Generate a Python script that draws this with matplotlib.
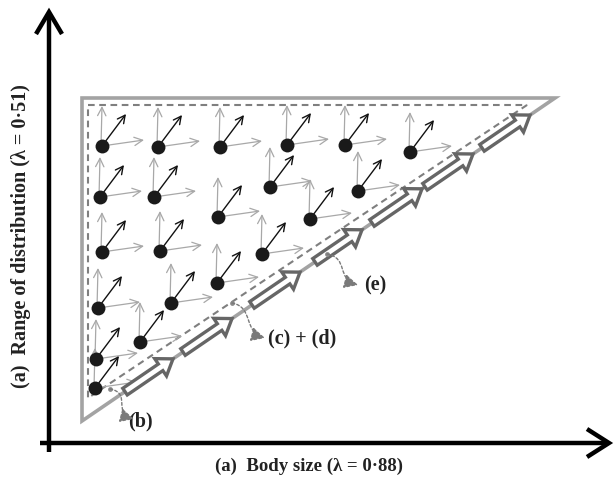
import matplotlib
matplotlib.use("Agg")
import matplotlib.pyplot as plt
import matplotlib.patches as mpatches
from matplotlib.path import Path
import numpy as np

# ---- data (diagram coordinates, 1 unit = 1 pixel, y downward) ----
dot_x = [102, 158, 220, 287, 345, 410,
         100, 154, 270, 358,
         218, 310,
         102, 160, 262,
         217,
         98, 171,
         140,
         96,
         95]
dot_y = [146, 147, 147, 145, 145, 152,
         197, 197, 187, 191,
         217, 219,
         252, 251, 254,
         283,
         308, 303,
         342,
         359,
         388]

# outer (solid) and inner (dashed) triangles
outer_x = [82, 555, 82]
outer_y = [98, 98, 421]
inner_x = [88, 527, 88]
inner_y = [105, 105, 398]

# block arrows along the hypotenuse (tail x, tip x)
block_tail_x = [125, 183, 252, 315, 372, 425, 482]
block_tip_x = [173, 232, 300, 362, 422, 473, 530]

# annotation labels
labels = ["(b)", "(c) + (d)", "(e)"]
label_start = [(110, 389), (232, 303), (327, 254)]
label_end = [(134, 419), (265, 338), (358, 285)]
label_pos = [(128, 421), (268, 338), (364, 285)]

xlabel = "(a)  Body size (λ = 0·88)"
ylabel = "(a)  Range of distribution (λ = 0·51)"

# ---- figure ----
fig = plt.figure(figsize=(6.14, 4.80), dpi=100)
ax = fig.add_axes([0, 0, 1, 1])
ax.set_xlim(0, 614)
ax.set_ylim(480, 0)
ax.axis("off")

serif = ["Liberation Serif", "DejaVu Serif"]

# axes arrows
ax.plot([49, 49], [452, 14], color="black", lw=3.2, solid_capstyle="butt", zorder=5)
ax.plot([40, 606], [443, 443], color="black", lw=3.2, solid_capstyle="butt", zorder=5)
ax.plot([36, 49, 62], [34, 12, 34], color="black", lw=3.2, solid_joinstyle="miter",
        solid_capstyle="butt", zorder=5)
ax.plot([587, 609, 587], [429, 443, 457], color="black", lw=3.2, solid_joinstyle="miter",
        solid_capstyle="butt", zorder=5)

# triangles
ax.add_patch(mpatches.Polygon(list(zip(outer_x, outer_y)), closed=True, fill=False,
                              ec="#a3a3a3", lw=2.6, joinstyle="miter", zorder=1))
ax.add_patch(mpatches.Polygon(list(zip(inner_x, inner_y)), closed=True, fill=False,
                              ec="#7f7f7f", lw=1.5, ls=(0, (3.2, 2.2)), joinstyle="miter",
                              zorder=1))

# hypotenuse for block arrows
hx = [outer_x[2], outer_x[1]]
hy = [outer_y[2], outer_y[1]]
for tx, px in zip(block_tail_x, block_tip_x):
    ty = np.interp(tx, hx, hy)
    py = np.interp(px, hx, hy)
    arr = mpatches.FancyArrow(tx, ty, px - tx, py - ty, width=8, head_width=21,
                              head_length=15, length_includes_head=True,
                              fill=True, fc="white", ec="#666666", lw=2.4,
                              joinstyle="miter", zorder=3)
    ax.add_patch(arr)

# dots with their three arrows
gray = "#a8a8a8"
for x, y in zip(dot_x, dot_y):
    ax.annotate("", xy=(x, y - 40), xytext=(x - 1, y),
                arrowprops=dict(arrowstyle="->,head_length=0.6,head_width=0.3",
                                color=gray, lw=0.9, shrinkA=0, shrinkB=0), zorder=2)
    ax.annotate("", xy=(x + 42, y - 6), xytext=(x, y),
                arrowprops=dict(arrowstyle="->,head_length=0.6,head_width=0.3",
                                color=gray, lw=0.9, shrinkA=0, shrinkB=0), zorder=2)
    ax.annotate("", xy=(x + 24, y - 32), xytext=(x, y),
                arrowprops=dict(arrowstyle="->,head_length=0.55,head_width=0.28",
                                color="#111111", lw=1.0, shrinkA=0, shrinkB=0), zorder=2)
ax.scatter(dot_x, dot_y, s=100, color="#1a1a1a", zorder=4, linewidths=0)

# annotation curves and labels
for lab, (sx, sy), (ex, ey), (lx, ly) in zip(labels, label_start, label_end, label_pos):
    ax.scatter([sx], [sy], s=12, color="#8a8a8a", zorder=4, linewidths=0)
    verts = [(sx, sy), (sx + 22, sy + 4), (ex - 22, ey - 6), (ex, ey)]
    codes = [Path.MOVETO, Path.CURVE4, Path.CURVE4, Path.CURVE4]
    p = mpatches.FancyArrowPatch(path=Path(verts, codes),
                                 arrowstyle="-|>,head_length=0.7,head_width=0.35",
                                 color="#7a7a7a", lw=1.0, ls=(0, (2.0, 1.6)),
                                 mutation_scale=12, zorder=4)
    ax.add_patch(p)
    ax.text(lx, ly, lab, ha="left", va="center", fontsize=14.5, fontweight="bold",
            family=serif, color="#222222")

ax.text(309, 466, xlabel, ha="center", va="center", fontsize=13.5, fontweight="bold",
        family=serif, color="#222222")
ax.text(21, 236, ylabel, ha="center", va="center", rotation=90, fontsize=14.5,
        fontweight="bold", family=serif, color="#222222")

fig.savefig("out.png", dpi=100)
